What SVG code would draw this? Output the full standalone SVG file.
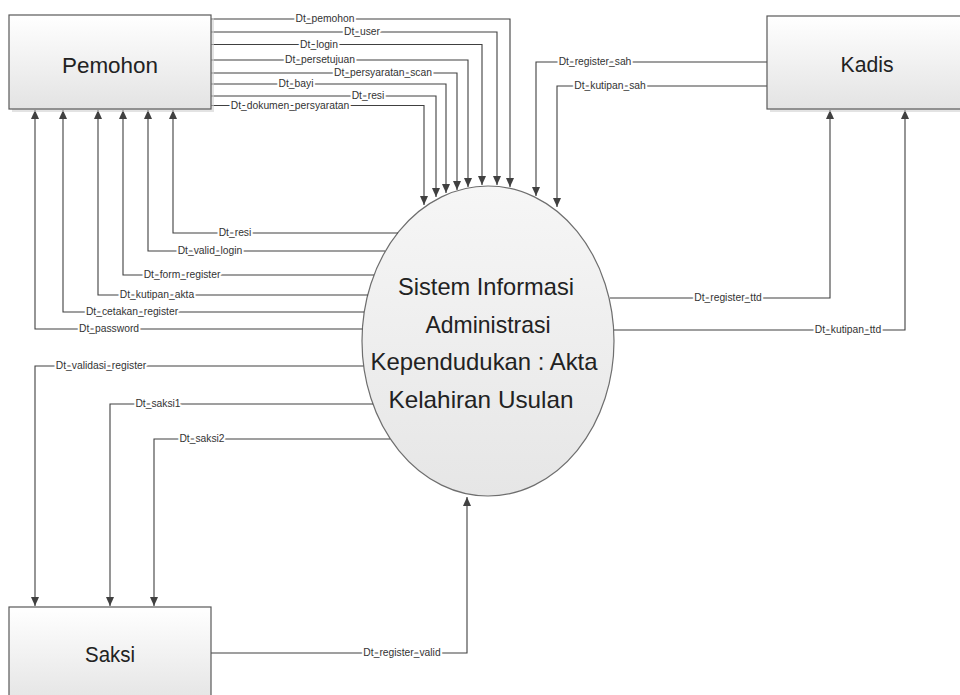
<svg xmlns="http://www.w3.org/2000/svg" width="960" height="695" viewBox="0 0 960 695">
<defs>
<linearGradient id="boxg" x1="0" y1="0" x2="0" y2="1">
<stop offset="0" stop-color="#ffffff"/>
<stop offset="1" stop-color="#e3e3e3"/>
</linearGradient>
<linearGradient id="ellg" x1="0" y1="0" x2="0" y2="1">
<stop offset="0" stop-color="#f6f6f6"/>
<stop offset="1" stop-color="#e6e6e6"/>
</linearGradient>
<marker id="arr" markerUnits="userSpaceOnUse" markerWidth="10" markerHeight="8" refX="9" refY="4" orient="auto">
<path d="M0,0 L9,4 L0,8 z" fill="#404040"/>
</marker>
</defs>
<style>
.box{fill:url(#boxg);stroke:#595959;stroke-width:1.2}
.shadow{fill:#d0d0d0;opacity:0.6}
.big{font-family:"Liberation Sans",Arial,sans-serif;font-size:22px;fill:#222;text-anchor:middle}
.proc{font-family:"Liberation Sans",Arial,sans-serif;font-size:24px;fill:#222;text-anchor:middle}
.flow{fill:none;stroke:#404040;stroke-width:1.1;marker-end:url(#arr)}
.lbl{font-family:"Liberation Sans",Arial,sans-serif;font-size:10.3px;fill:#333;text-anchor:middle;stroke:#ffffff;stroke-width:4;stroke-linejoin:round;paint-order:stroke}
</style>
<rect width="960" height="695" fill="#ffffff"/>

<g id="process">
<ellipse cx="488" cy="341" rx="126" ry="155" fill="url(#ellg)" stroke="#6e6e6e" stroke-width="1.2"/>
<text class="proc" x="486" y="295" textLength="176" lengthAdjust="spacingAndGlyphs">Sistem Informasi</text>
<text class="proc" x="488" y="333" textLength="125" lengthAdjust="spacingAndGlyphs">Administrasi</text>
<text class="proc" x="484" y="370" textLength="227" lengthAdjust="spacingAndGlyphs">Kependudukan : Akta</text>
<text class="proc" x="481" y="408" textLength="185" lengthAdjust="spacingAndGlyphs">Kelahiran Usulan</text>
</g>

<g id="connectors">
<!-- Pemohon to process -->
<polyline class="flow" points="211,19 510,19 510,187"/>
<polyline class="flow" points="211,32 497,32 497,185"/>
<polyline class="flow" points="211,44.5 482,44.5 482,185"/>
<polyline class="flow" points="211,60 468,60 468,187"/>
<polyline class="flow" points="211,73 457,73 457,190"/>
<polyline class="flow" points="211,84 446,84 446,193"/>
<polyline class="flow" points="211,96 436,96 436,197"/>
<polyline class="flow" points="211,105.5 424,105.5 424,205"/>
<!-- Kadis to process -->
<polyline class="flow" points="767,62 536,62 536,196"/>
<polyline class="flow" points="767,86 557,86 557,207"/>
<!-- process to Kadis -->
<polyline class="flow" points="610,298 830,298 830,110"/>
<polyline class="flow" points="614,330 905,330 905,110"/>
<!-- process to Pemohon -->
<polyline class="flow" points="398,233 173,233 173,110"/>
<polyline class="flow" points="385,251 148,251 148,110"/>
<polyline class="flow" points="374,275 123,275 123,110"/>
<polyline class="flow" points="368,295 98,295 98,110"/>
<polyline class="flow" points="364,312 63,312 63,110"/>
<polyline class="flow" points="362.5,329 35,329 35,110"/>
<!-- process to Saksi -->
<polyline class="flow" points="363.5,366 35,366 35,606"/>
<polyline class="flow" points="373,404 110,404 110,606"/>
<polyline class="flow" points="390,439 154,439 154,606"/>
<!-- Saksi to process -->
<polyline class="flow" points="211,653 467,653 467,497"/>

<text class="lbl" x="325" y="22">Dt_pemohon</text>
<text class="lbl" x="362" y="35">Dt_user</text>
<text class="lbl" x="319" y="47.5">Dt_login</text>
<text class="lbl" x="320" y="63">Dt_persetujuan</text>
<text class="lbl" x="383" y="76">Dt_persyaratan_scan</text>
<text class="lbl" x="296" y="87">Dt_bayi</text>
<text class="lbl" x="368" y="99">Dt_resi</text>
<text class="lbl" x="290" y="108.5">Dt_dokumen_persyaratan</text>
<text class="lbl" x="595" y="65">Dt_register_sah</text>
<text class="lbl" x="610" y="89">Dt_kutipan_sah</text>
<text class="lbl" x="728" y="301">Dt_register_ttd</text>
<text class="lbl" x="848" y="333">Dt_kutipan_ttd</text>
<text class="lbl" x="235" y="236">Dt_resi</text>
<text class="lbl" x="210" y="254">Dt_valid_login</text>
<text class="lbl" x="182" y="278">Dt_form_register</text>
<text class="lbl" x="157" y="298">Dt_kutipan_akta</text>
<text class="lbl" x="132" y="315">Dt_cetakan_register</text>
<text class="lbl" x="109" y="332">Dt_password</text>
<text class="lbl" x="101" y="369">Dt_validasi_register</text>
<text class="lbl" x="158" y="407">Dt_saksi1</text>
<text class="lbl" x="202" y="442">Dt_saksi2</text>
<text class="lbl" x="402" y="656">Dt_register_valid</text>
</g>

<g id="pemohon">
<rect class="shadow" x="12" y="18" width="202" height="94"/>
<rect class="box" x="9" y="15" width="202" height="94"/>
<text class="big" x="110" y="73" textLength="96" lengthAdjust="spacingAndGlyphs">Pemohon</text>
</g>

<g id="kadis">
<rect class="shadow" x="770" y="19" width="200" height="93"/>
<rect class="box" x="767" y="16" width="200" height="93"/>
<text class="big" x="867" y="72" textLength="53" lengthAdjust="spacingAndGlyphs">Kadis</text>
</g>

<g id="saksi">
<rect class="box" x="9" y="607" width="202" height="100"/>
<text class="big" x="110" y="662" textLength="50" lengthAdjust="spacingAndGlyphs">Saksi</text>
</g>
</svg>
